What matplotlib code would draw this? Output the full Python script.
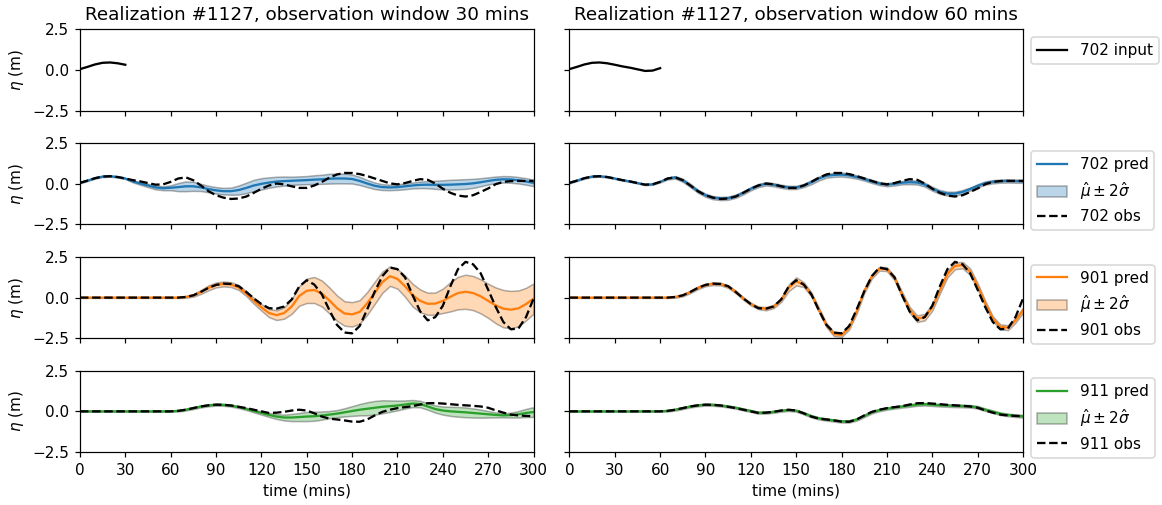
import matplotlib
matplotlib.use("Agg")
import numpy as np
import matplotlib.pyplot as plt

# time grid (mins)
t = [0, 5, 10, 15, 20, 25, 30, 35, 40, 45, 50, 55, 60, 65, 70, 75, 80, 85, 90, 95,
     100, 105, 110, 115, 120, 125, 130, 135, 140, 145, 150, 155, 160, 165, 170, 175,
     180, 185, 190, 195, 200, 205, 210, 215, 220, 225, 230, 235, 240, 245, 250, 255,
     260, 265, 270, 275, 280, 285, 290, 295, 300]

# gauge 702
obs_702 = [0.06, 0.20, 0.35, 0.45, 0.47, 0.42, 0.33, 0.23, 0.15, 0.05,
           -0.05, -0.03, 0.12, 0.33, 0.40, 0.22, -0.10, -0.45, -0.70, -0.85,
           -0.93, -0.90, -0.78, -0.55, -0.30, -0.10, 0.02, -0.03, -0.15, -0.25,
           -0.25, -0.10, 0.12, 0.38, 0.58, 0.67, 0.67, 0.60, 0.48, 0.33,
           0.18, 0.03, -0.03, 0.05, 0.18, 0.29, 0.25, 0.02, -0.30, -0.55,
           -0.72, -0.78, -0.70, -0.50, -0.28, -0.02, 0.12, 0.17, 0.18, 0.18, 0.18]
pred_702_30 = [0.06, 0.20, 0.35, 0.45, 0.47, 0.42, 0.33, 0.15, 0.02, -0.10,
               -0.22, -0.27, -0.24, -0.20, -0.15, -0.15, -0.22, -0.32, -0.40, -0.45,
               -0.45, -0.38, -0.25, -0.10, 0.00, 0.08, 0.14, 0.17, 0.19, 0.21,
               0.23, 0.26, 0.28, 0.32, 0.33, 0.33, 0.30, 0.18, 0.02, -0.12,
               -0.20, -0.22, -0.20, -0.15, -0.10, -0.06, -0.05, -0.06, -0.06, -0.05,
               -0.03, -0.01, 0.03, 0.10, 0.18, 0.25, 0.28, 0.27, 0.22, 0.15, 0.06]
sd2_702_30 = [0.03, 0.03, 0.03, 0.03, 0.03, 0.03, 0.03,
              0.06, 0.08, 0.10, 0.12, 0.12, 0.15,
              0.25, 0.30, 0.28, 0.22, 0.20, 0.20, 0.20, 0.22,
              0.28, 0.32, 0.35, 0.35, 0.32, 0.30, 0.28, 0.25,
              0.25, 0.25, 0.27, 0.28, 0.30, 0.30, 0.30, 0.28,
              0.25, 0.22, 0.20, 0.18, 0.17, 0.17, 0.18, 0.18,
              0.20, 0.22, 0.25, 0.28, 0.30, 0.30, 0.30, 0.28,
              0.25, 0.22, 0.20, 0.20, 0.20, 0.20, 0.20, 0.20]
pred_702_60 = [0.06, 0.20, 0.35, 0.45, 0.47, 0.42, 0.33, 0.23, 0.15, 0.05,
               -0.05, -0.03, 0.12, 0.33, 0.40, 0.22, -0.10, -0.45, -0.70, -0.85,
               -0.90, -0.88, -0.76, -0.55, -0.30, -0.10, 0.00, -0.05, -0.15, -0.22,
               -0.22, -0.10, 0.10, 0.33, 0.50, 0.55, 0.57, 0.52, 0.42, 0.30,
               0.15, 0.02, -0.05, 0.00, 0.07, 0.10, 0.08, -0.05, -0.30, -0.50,
               -0.60, -0.60, -0.50, -0.32, -0.12, 0.05, 0.13, 0.17, 0.18, 0.17, 0.16]
sd2_702_60 = [0.03, 0.03, 0.03, 0.03, 0.03, 0.03, 0.03, 0.03, 0.03, 0.03, 0.03, 0.03, 0.03,
              0.06, 0.08, 0.10, 0.10, 0.10, 0.10, 0.10, 0.10,
              0.10, 0.10, 0.10, 0.10, 0.10, 0.10, 0.10, 0.10,
              0.10, 0.10, 0.10, 0.12, 0.12, 0.12, 0.12, 0.12,
              0.12, 0.10, 0.10, 0.10, 0.10, 0.10, 0.10, 0.10,
              0.12, 0.12, 0.12, 0.12, 0.12, 0.12, 0.12, 0.12,
              0.10, 0.10, 0.10, 0.10, 0.10, 0.10, 0.10, 0.10]

# gauge 901
obs_901 = [0, 0, 0, 0, 0, 0, 0, 0, 0, 0, 0, 0, 0,
           0.00, 0.04, 0.14, 0.35, 0.60, 0.78, 0.86, 0.84,
           0.70, 0.35, -0.05, -0.40, -0.65, -0.68, -0.55, -0.12,
           0.68, 1.07, 0.80, 0.20, -0.78, -1.68, -2.15, -2.20,
           -1.75, -0.72, 0.38, 1.32, 1.85, 1.75, 1.25, 0.15,
           -0.85, -1.40, -1.20, -0.50, 0.70, 1.75, 2.20, 2.05,
           1.50, 0.48, -0.58, -1.50, -1.95, -1.90, -1.20, -0.06]
pred_901_30 = [0, 0, 0, 0, 0, 0, 0, 0, 0, 0, 0, 0, 0, 0,
               0.04, 0.14, 0.35, 0.60, 0.78, 0.84, 0.80,
               0.62, 0.25, -0.20, -0.60, -0.95, -1.08, -0.95, -0.55,
               0.10, 0.42, 0.47, 0.25, -0.18, -0.65, -0.98, -1.03,
               -0.88, -0.35, 0.30, 0.95, 1.32, 1.15, 0.70, 0.15,
               -0.20, -0.38, -0.37, -0.20, 0.05, 0.28, 0.36, 0.28,
               0.08, -0.20, -0.48, -0.68, -0.74, -0.66, -0.40, -0.06]
sd2_901_30 = [0.02, 0.02, 0.02, 0.02, 0.02, 0.02, 0.02, 0.02, 0.02, 0.02, 0.02, 0.02, 0.02, 0.02,
              0.05, 0.08, 0.12, 0.15, 0.15, 0.15, 0.15,
              0.15, 0.15, 0.18, 0.20, 0.25, 0.30, 0.35, 0.45,
              0.60, 0.75, 0.80, 0.80, 0.80, 0.78, 0.75, 0.75,
              0.72, 0.70, 0.68, 0.65, 0.60, 0.60, 0.65, 0.70,
              0.70, 0.68, 0.68, 0.75, 0.90, 1.00, 1.05, 1.05,
              1.05, 1.05, 1.10, 1.15, 1.15, 1.10, 1.00, 0.93]
pred_901_60 = [0, 0, 0, 0, 0, 0, 0, 0, 0, 0, 0, 0, 0, 0,
               0.04, 0.14, 0.35, 0.60, 0.78, 0.85, 0.83,
               0.68, 0.35, -0.05, -0.40, -0.63, -0.68, -0.55, -0.15,
               0.60, 1.00, 0.80, 0.20, -0.75, -1.70, -2.25, -2.30,
               -1.85, -0.85, 0.40, 1.30, 1.78, 1.75, 1.20, 0.20,
               -0.75, -1.30, -1.20, -0.60, 0.45, 1.45, 1.95, 2.00,
               1.60, 0.70, -0.35, -1.30, -1.80, -1.85, -1.40, -0.78]
sd2_901_60 = [0.02, 0.02, 0.02, 0.02, 0.02, 0.02, 0.02, 0.02, 0.02, 0.02, 0.02, 0.02, 0.02, 0.02,
              0.05, 0.06, 0.07, 0.08, 0.08, 0.08, 0.08,
              0.08, 0.08, 0.08, 0.08, 0.08, 0.10, 0.10, 0.12,
              0.20, 0.25, 0.15, 0.12, 0.12, 0.12, 0.12, 0.12,
              0.12, 0.12, 0.12, 0.12, 0.12, 0.12, 0.12, 0.15,
              0.18, 0.20, 0.20, 0.20, 0.20, 0.20, 0.20, 0.20,
              0.20, 0.18, 0.15, 0.15, 0.15, 0.15, 0.15, 0.15]

# gauge 911
obs_911 = [0, 0, 0, 0, 0, 0, 0, 0, 0, 0, 0, 0, 0,
           0.03, 0.10, 0.20, 0.30, 0.37, 0.41, 0.40, 0.36,
           0.28, 0.20, 0.10, 0.00, -0.10, -0.08, -0.03, 0.05,
           0.10, 0.05, -0.12, -0.32, -0.45, -0.50, -0.56, -0.63,
           -0.64, -0.50, -0.25, -0.03, 0.10, 0.20, 0.26, 0.32,
           0.42, 0.50, 0.51, 0.48, 0.44, 0.40, 0.37, 0.34,
           0.30, 0.22, 0.06, -0.08, -0.20, -0.25, -0.28, -0.30]
pred_911_30 = [0, 0, 0, 0, 0, 0, 0, 0, 0, 0, 0, 0, 0,
               0.03, 0.10, 0.20, 0.30, 0.37, 0.41, 0.40, 0.35,
               0.26, 0.15, 0.02, -0.10, -0.22, -0.32, -0.38, -0.38,
               -0.35, -0.32, -0.30, -0.26, -0.20, -0.14, -0.06, 0.02,
               0.10, 0.16, 0.22, 0.28, 0.32, 0.36, 0.42, 0.48,
               0.45, 0.30, 0.14, 0.05, 0.00, -0.03, -0.06, -0.10,
               -0.14, -0.18, -0.22, -0.25, -0.23, -0.18, -0.10, -0.04]
sd2_911_30 = [0.02, 0.02, 0.02, 0.02, 0.02, 0.02, 0.02, 0.02, 0.02, 0.02, 0.02, 0.02, 0.02,
              0.04, 0.05, 0.06, 0.06, 0.06, 0.06, 0.06, 0.06,
              0.06, 0.07, 0.08, 0.10, 0.12, 0.15, 0.18, 0.22,
              0.25, 0.28, 0.28, 0.25, 0.22, 0.22, 0.25, 0.30,
              0.35, 0.40, 0.42, 0.40, 0.35, 0.30, 0.25, 0.22,
              0.20, 0.20, 0.22, 0.25, 0.28, 0.30, 0.30, 0.28,
              0.25, 0.20, 0.15, 0.12, 0.15, 0.20, 0.25, 0.30]
pred_911_60 = [0, 0, 0, 0, 0, 0, 0, 0, 0, 0, 0, 0, 0,
               0.03, 0.10, 0.20, 0.30, 0.37, 0.41, 0.40, 0.36,
               0.30, 0.22, 0.12, 0.02, -0.08, -0.08, -0.03, 0.04,
               0.08, 0.04, -0.12, -0.30, -0.43, -0.50, -0.56, -0.62,
               -0.62, -0.50, -0.28, -0.06, 0.08, 0.17, 0.24, 0.30,
               0.36, 0.42, 0.44, 0.41, 0.38, 0.36, 0.34, 0.33,
               0.31, 0.25, 0.10, -0.02, -0.15, -0.22, -0.27, -0.30]
sd2_911_60 = [0.02, 0.02, 0.02, 0.02, 0.02, 0.02, 0.02, 0.02, 0.02, 0.02, 0.02, 0.02, 0.02,
              0.04, 0.05, 0.06, 0.06, 0.06, 0.06, 0.06, 0.06,
              0.06, 0.06, 0.06, 0.06, 0.06, 0.06, 0.06, 0.06,
              0.06, 0.06, 0.07, 0.07, 0.07, 0.07, 0.07, 0.07,
              0.07, 0.07, 0.07, 0.07, 0.07, 0.07, 0.07, 0.07,
              0.08, 0.08, 0.08, 0.08, 0.08, 0.08, 0.08, 0.08,
              0.08, 0.08, 0.08, 0.08, 0.08, 0.08, 0.08, 0.08]

windows = [30, 60]
realization = 1127


def draw_gauge(ax, gauge, color, pred, sd2, obs):
    pred = np.array(pred)
    sd2 = np.array(sd2)
    ax.plot(t, pred, color=color, label=f"{gauge} pred")
    ax.fill_between(t, pred - sd2, pred + sd2, facecolor=color, edgecolor="k",
                    alpha=0.3, label=r"$\hat{\mu} \pm 2\hat{\sigma}$")
    ax.plot(t, obs, "k--", label=f"{gauge} obs")


def main():
    fig, axes = plt.subplots(4, 2, figsize=(1162 / 110, 505 / 110), dpi=110,
                             sharex=True, sharey=True)
    fig.subplots_adjust(left=0.0688, right=0.8804, bottom=0.105, top=0.9416,
                        wspace=0.079, hspace=0.40)

    tt = np.array(t)
    for j, win in enumerate(windows):
        ax = axes[0, j]
        keep = tt <= win
        ax.plot(tt[keep], np.array(obs_702)[keep], color="k", label="702 input")
        ax.set_title(f"Realization #{realization}, observation window {win} mins")

    draw_gauge(axes[1, 0], 702, "tab:blue", pred_702_30, sd2_702_30, obs_702)
    draw_gauge(axes[1, 1], 702, "tab:blue", pred_702_60, sd2_702_60, obs_702)
    draw_gauge(axes[2, 0], 901, "tab:orange", pred_901_30, sd2_901_30, obs_901)
    draw_gauge(axes[2, 1], 901, "tab:orange", pred_901_60, sd2_901_60, obs_901)
    draw_gauge(axes[3, 0], 911, "tab:green", pred_911_30, sd2_911_30, obs_911)
    draw_gauge(axes[3, 1], 911, "tab:green", pred_911_60, sd2_911_60, obs_911)

    for ax in axes.flat:
        ax.set_xlim(0, 300)
        ax.set_ylim(-2.5, 2.5)
        ax.set_xticks(range(0, 301, 30))
        ax.set_yticks([-2.5, 0, 2.5])
    for i in range(4):
        axes[i, 0].set_ylabel(r"$\eta$ (m)")
        axes[i, 1].legend(loc="upper left", bbox_to_anchor=(1, 1))
    for j in range(2):
        axes[3, j].set_xlabel("time (mins)")

    fig.savefig("out.png", dpi=110)


if __name__ == "__main__":
    main()
